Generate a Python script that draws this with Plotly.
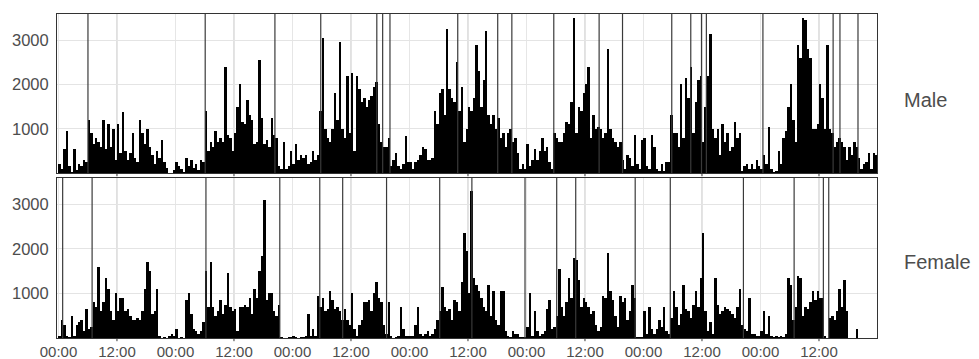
import plotly.graph_objects as go

# ---------------- data (30-minute bins, hours from first midnight) ----------------
bin_hours = 0.5

male_counts = [
    200, 100, 550, 950, 150, 20, 550, 80, 200, 150, 300, 250,
    1200, 900, 650, 800, 700, 600, 1200, 550, 1100, 600, 1000, 300,
    1100, 450, 1380, 500, 300, 450, 900, 350, 250, 1200, 900, 650,
    1000, 600, 400, 200, 500, 350, 750, 250, 120, 0, 0, 80,
    250, 150, 100, 30, 350, 150, 300, 120, 200, 80, 300, 250,
    1400, 500, 700, 600, 950, 700, 800, 700, 2400, 850, 800, 500,
    900, 1500, 2000, 1150, 1100, 1650, 1300, 1200, 650, 700, 2550, 1250,
    650, 750, 600, 1250, 850, 800, 150, 100, 700, 100, 150, 500,
    200, 650, 300, 400, 350, 400, 200, 250, 500, 300, 400, 1400,
    3050, 1000, 800, 700, 1000, 1800, 1200, 2950, 1000, 800, 2200, 900,
    2250, 500, 2200, 1900, 1600, 1700, 1500, 1650, 1750, 1950, 2050, 1100,
    700, 600, 600, 800, 150, 300, 450, 150, 100, 200, 830, 250,
    250, 100, 250, 300, 400, 600, 550, 300, 300, 350, 1400, 1100,
    1800, 1900, 1300, 3250, 1900, 1700, 1600, 2500, 1400, 1950, 700, 1000,
    1500, 1400, 1700, 2900, 2300, 1500, 2100, 3200, 1300, 1100, 1300, 1000,
    1250, 800, 900, 600, 900, 1000, 700, 800, 450, 100, 200, 100,
    650, 150, 300, 550, 300, 500, 800, 500, 600, 250, 100, 900,
    800, 700, 700, 900, 1150, 1100, 1600, 3500, 900, 1500, 1400, 1800,
    2000, 2400, 800, 1300, 1000, 1050, 1000, 800, 900, 2800, 1000, 800,
    700, 600, 700, 300, 100, 400, 350, 150, 850, 200, 100, 750,
    800, 150, 100, 850, 600, 100, 50, 200, 50, 250, 250, 1300,
    900, 900, 600, 2000, 800, 2150, 1700, 2400, 900, 1600, 2100, 2200,
    700, 1500, 2200, 3150, 1000, 800, 1000, 400, 1100, 700, 900, 500,
    600, 1150, 800, 900, 50, 150, 200, 100, 200, 100, 300, 150,
    100, 400, 200, 1040, 100, 20, 50, 500, 200, 800, 950, 1500,
    2000, 1200, 700, 2900, 2600, 3500, 3450, 2800, 2600, 1000, 1000, 1100,
    2000, 1700, 1000, 2900, 1000, 900, 600, 700, 800, 700, 600, 300,
    600, 400, 700, 600, 350, 100, 200, 250, 450, 100, 450, 400,
]

female_counts = [
    50, 400, 300, 50, 30, 500, 50, 300, 350, 400, 150, 650,
    200, 250, 800, 700, 1600, 600, 800, 1350, 1100, 600, 400, 1000,
    600, 900, 900, 600, 650, 500, 400, 400, 450, 400, 600, 1100,
    1700, 1500, 550, 600, 1100, 50, 0, 20, 0, 50, 100, 50,
    200, 0, 20, 0, 850, 1000, 550, 200, 150, 100, 150, 350,
    1500, 700, 1700, 700, 500, 600, 850, 550, 750, 1450, 700, 600,
    650, 150, 700, 700, 750, 700, 900, 550, 1100, 900, 1500, 1850,
    3100, 850, 1000, 1000, 600, 500, 750, 30, 0, 0, 20, 30,
    40, 30, 0, 30, 20, 50, 550, 50, 200, 50, 950, 700,
    900, 600, 650, 1050, 850, 650, 700, 600, 400, 650, 400, 300,
    1000, 200, 50, 300, 400, 800, 800, 850, 600, 1000, 1250, 900,
    800, 300, 100, 800, 50, 0, 20, 50, 700, 200, 50, 50,
    50, 50, 300, 700, 100, 50, 100, 150, 50, 100, 200, 400,
    600, 1150, 700, 600, 650, 400, 850, 800, 600, 1250, 2350, 1950,
    1000, 3300, 1350, 1200, 1050, 900, 700, 600, 1200, 500, 1050, 400,
    300, 1050, 1050, 150, 50, 30, 150, 100, 100, 20, 30, 20,
    250, 1000, 50, 600, 150, 50, 100, 150, 650, 850, 200, 250,
    500, 1550, 700, 500, 800, 1350, 900, 1800, 1750, 1300, 700, 900,
    800, 700, 550, 600, 300, 150, 250, 950, 900, 1900, 1050, 850,
    500, 250, 950, 800, 900, 400, 600, 1200, 900, 30, 30, 20,
    600, 100, 700, 200, 100, 200, 400, 250, 700, 150, 100, 450,
    1050, 700, 300, 550, 1200, 650, 600, 450, 750, 1050, 700, 1350,
    2350, 600, 150, 350, 100, 1350, 750, 550, 600, 700, 650, 600,
    550, 450, 700, 1100, 300, 200, 150, 900, 100, 100, 50, 50,
    150, 600, 100, 500, 50, 30, 50, 30, 50, 30, 100, 1350,
    1200, 400, 700, 1400, 1350, 500, 700, 650, 800, 1050, 850, 1050,
    900, 900, 50, 0, 450, 500, 400, 600, 1100, 700, 1300, 600,
    0, 0, 0, 200, 0, 0, 0, 0, 0, 0, 0, 0,
]

male_events = [6.05, 30.1, 44.4, 53.8, 65.3, 66.5, 68.0, 81.9, 90.1, 93.0,
               101.6, 110.9, 115.7, 125.8, 129.7, 131.9, 132.9, 144.5,
               158.9, 160.3, 164.0]
female_events = [0.86, 6.9, 30.25, 45.4, 53.6, 58.3, 67.3, 78.2, 84.8, 95.7,
                 102.2, 106.1, 118.3, 125.5, 140.5, 150.9, 156.9, 158.0]

tick_hours = [0, 12, 24, 36, 48, 60, 72, 84, 96, 108, 120, 132, 144, 156]
tick_labels = ["00:00", "12:00"] * 7
y_ticks = [1000, 2000, 3000]
panel_labels = ["Male", "Female"]

# ---------------- figure ----------------
x_centers = [i * bin_hours + bin_hours / 2 for i in range(len(male_counts))]

fig = go.Figure()
fig.add_trace(go.Bar(x=x_centers, y=male_counts, width=bin_hours,
                     marker=dict(color="black", line=dict(width=0)),
                     xaxis="x2", yaxis="y2", hoverinfo="skip", showlegend=False))
fig.add_trace(go.Bar(x=x_centers, y=female_counts, width=bin_hours,
                     marker=dict(color="black", line=dict(width=0)),
                     xaxis="x", yaxis="y", hoverinfo="skip", showlegend=False))

font_col = "#4d4d4d"
axis_common = dict(showline=True, mirror=True, linecolor="#333333", linewidth=1,
                   zeroline=False, automargin=False)
xrange = [-0.3, 167.9]
yrange = [0, 3590]

fig.update_layout(
    width=979, height=359,
    margin=dict(l=57, r=102, t=14, b=21, autoexpand=False),
    plot_bgcolor="white", paper_bgcolor="white",
    bargap=0,
    font=dict(family="Liberation Sans, Arial, sans-serif", color=font_col),
    xaxis=dict(domain=[0, 1], anchor="y", range=xrange, tickvals=tick_hours,
               ticktext=tick_labels, showgrid=False, ticks="",
               tickfont=dict(size=15, color=font_col),
               **axis_common),
    xaxis2=dict(domain=[0, 1], anchor="y2", range=xrange, matches="x",
                tickvals=tick_hours, showticklabels=False, showgrid=False,
                ticks="", **axis_common),
    yaxis=dict(domain=[0, 0.494], anchor="x", range=yrange, tickvals=y_ticks,
               showgrid=True, gridcolor="#e4e4e4", gridwidth=1,
               ticks="outside", ticklen=4, tickcolor="rgba(0,0,0,0)",
               tickfont=dict(size=16.5, color=font_col),
               **axis_common),
    yaxis2=dict(domain=[0.509, 1], anchor="x2", range=yrange, tickvals=y_ticks,
                showgrid=True, gridcolor="#e4e4e4", gridwidth=1,
                ticks="outside", ticklen=4, tickcolor="rgba(0,0,0,0)",
                tickfont=dict(size=16.5, color=font_col),
                **axis_common),
)

shapes = []
for xr, yr in (("x", "y domain"), ("x2", "y2 domain")):
    for h, lab in zip(tick_hours, tick_labels):
        col = "#c6c6c6" if lab == "12:00" else "#e6e6e6"
        shapes.append(dict(type="line", xref=xr, yref=yr, x0=h, x1=h, y0=0, y1=1,
                           line=dict(color=col, width=1), layer="below"))
        if lab == "12:00":
            shapes.append(dict(type="line", xref=xr, yref=yr, x0=h, x1=h,
                               y0=0, y1=-0.02, line=dict(color="#333333", width=1),
                               layer="above"))

for h in male_events:
    shapes.append(dict(type="line", xref="x2", yref="y2 domain", x0=h, x1=h,
                       y0=0, y1=1, line=dict(color="#3a3a3a", width=1.2),
                       layer="above"))
for h in female_events:
    shapes.append(dict(type="line", xref="x", yref="y domain", x0=h, x1=h,
                       y0=0, y1=1, line=dict(color="#3a3a3a", width=1.2),
                       layer="above"))
fig.update_layout(shapes=shapes)

fig.add_annotation(text=panel_labels[0], xref="paper", yref="y2 domain", x=1, y=0.5,
                   xanchor="left", yanchor="middle", xshift=25, yshift=-6,
                   showarrow=False, font=dict(size=20, color=font_col))
fig.add_annotation(text=panel_labels[1], xref="paper", yref="y domain", x=1, y=0.5,
                   xanchor="left", yanchor="middle", xshift=25, yshift=-4,
                   showarrow=False, font=dict(size=20, color=font_col))

fig.write_html("out.html", config={"displayModeBar": False},
               post_script="document.body.style.margin='0px';document.body.style.padding='0px';")
